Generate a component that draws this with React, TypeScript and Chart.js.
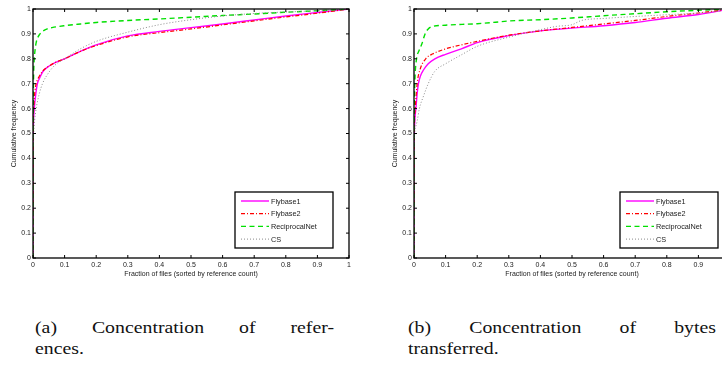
import React, { useEffect, useRef } from "react";
import { Chart, registerables } from "chart.js";

Chart.register(...registerables);

// ---------- data ----------
const tickValues = [0, 0.1, 0.2, 0.3, 0.4, 0.5, 0.6, 0.7, 0.8, 0.9, 1];
const tickLabels = ["0", "0.1", "0.2", "0.3", "0.4", "0.5", "0.6", "0.7", "0.8", "0.9", "1"];
const seriesNames = ["Flybase1", "Flybase2", "ReciprocalNet", "CS"];
const xTitle = "Fraction of files (sorted by reference count)";
const yTitle = "Cumulative frequency";
const captionA = ["(a) Concentration of refer-", "ences."];
const captionB = ["(b) Concentration of bytes", "transferred."];

// chart (a): concentration of references
const aFly1X = [0, 0, 0.001, 0.002, 0.004, 0.008, 0.014, 0.02, 0.032, 0.05, 0.07, 0.09, 0.1, 0.15, 0.2, 0.3, 0.4, 0.5, 0.6, 0.7, 0.8, 0.9, 1.0];
const aFly1Y = [0, 0.45, 0.52, 0.56, 0.6, 0.65, 0.7, 0.72, 0.75, 0.77, 0.785, 0.795, 0.8, 0.83, 0.856, 0.892, 0.91, 0.925, 0.94, 0.956, 0.972, 0.986, 1.0];
const aFly2X = [0, 0, 0.001, 0.003, 0.006, 0.01, 0.02, 0.03, 0.05, 0.07, 0.1, 0.15, 0.2, 0.3, 0.4, 0.5, 0.6, 0.7, 0.8, 0.9, 1.0];
const aFly2Y = [0, 0.4, 0.55, 0.62, 0.67, 0.7, 0.73, 0.75, 0.77, 0.785, 0.8, 0.83, 0.853, 0.888, 0.905, 0.92, 0.936, 0.952, 0.968, 0.983, 1.0];
const aRecX = [0, 0, 0.001, 0.002, 0.004, 0.007, 0.01, 0.015, 0.022, 0.03, 0.045, 0.06, 0.1, 0.15, 0.2, 0.3, 0.4, 0.5, 0.6, 0.7, 0.8, 0.9, 1.0];
const aRecY = [0, 0.5, 0.65, 0.74, 0.8, 0.84, 0.865, 0.885, 0.9, 0.91, 0.92, 0.925, 0.933, 0.94, 0.946, 0.954, 0.96, 0.967, 0.974, 0.98, 0.987, 0.993, 1.0];
const aCsX = [0, 0, 0.002, 0.005, 0.01, 0.02, 0.03, 0.05, 0.07, 0.1, 0.15, 0.2, 0.3, 0.4, 0.5, 0.6, 0.7, 0.8, 0.9, 1.0];
const aCsY = [0, 0.45, 0.5, 0.55, 0.6, 0.66, 0.7, 0.745, 0.775, 0.8, 0.84, 0.87, 0.907, 0.937, 0.957, 0.972, 0.982, 0.988, 0.993, 1.0];

// chart (b): concentration of bytes transferred
const bFly1X = [0, 0, 0.001, 0.003, 0.006, 0.01, 0.014, 0.02, 0.03, 0.045, 0.066, 0.1, 0.15, 0.2, 0.3, 0.4, 0.5, 0.6, 0.7, 0.8, 0.9, 1.0];
const bFly1Y = [0, 0.4, 0.5, 0.56, 0.6, 0.66, 0.7, 0.73, 0.755, 0.78, 0.8, 0.818, 0.84, 0.865, 0.893, 0.912, 0.923, 0.933, 0.946, 0.963, 0.978, 1.0];
const bFly2X = [0, 0, 0.001, 0.004, 0.01, 0.02, 0.037, 0.06, 0.1, 0.13, 0.2, 0.3, 0.4, 0.5, 0.6, 0.7, 0.8, 0.9, 1.0];
const bFly2Y = [0, 0.4, 0.52, 0.6, 0.7, 0.76, 0.8, 0.82, 0.84, 0.85, 0.87, 0.895, 0.912, 0.926, 0.94, 0.954, 0.97, 0.984, 1.0];
const bRecX = [0, 0, 0.001, 0.003, 0.008, 0.015, 0.025, 0.035, 0.045, 0.06, 0.1, 0.2, 0.25, 0.3, 0.4, 0.5, 0.6, 0.7, 0.8, 0.9, 1.0];
const bRecY = [0, 0.5, 0.62, 0.72, 0.8, 0.83, 0.86, 0.9, 0.92, 0.93, 0.935, 0.941, 0.946, 0.952, 0.957, 0.964, 0.973, 0.981, 0.989, 0.995, 1.0];
const bCsX = [0, 0, 0.002, 0.006, 0.01, 0.017, 0.03, 0.045, 0.066, 0.1, 0.15, 0.2, 0.3, 0.4, 0.45, 0.5, 0.53, 0.6, 0.7, 0.8, 0.9, 1.0];
const bCsY = [0, 0.4, 0.5, 0.53, 0.55, 0.6, 0.65, 0.7, 0.75, 0.78, 0.816, 0.85, 0.887, 0.917, 0.93, 0.937, 0.954, 0.962, 0.97, 0.977, 0.984, 0.995];

// ---------- styles ----------
const FONT = "'Liberation Sans', Arial, Helvetica, sans-serif";
const styles = [
  { color: "#ff00ff", dash: [] as number[], width: 1.4, order: 3 },
  { color: "#ff0000", dash: [4, 2, 1, 2], width: 1.2, order: 2 },
  { color: "#00e000", dash: [5, 3.5], width: 1.4, order: 1 },
  { color: "#8a8a8a", dash: [1, 2], width: 1, order: 0 },
];

const zip = (xs: number[], ys: number[]) => xs.map((x, i) => ({ x, y: ys[i] }));

const framePlugin = {
  id: "matlabFrame",
  afterDraw(chart: any, _args: any, opts: any) {
    const { ctx, chartArea: a, scales } = chart;
    ctx.save();
    ctx.strokeStyle = "#000";
    ctx.lineWidth = 1.3;
    ctx.strokeRect(a.left, a.top, a.right - a.left, a.bottom - a.top);
    ctx.lineWidth = 1;
    const tl = 3;
    tickValues.forEach((v) => {
      const px = scales.x.getPixelForValue(v);
      const py = scales.y.getPixelForValue(v);
      ctx.beginPath();
      ctx.moveTo(px, a.bottom); ctx.lineTo(px, a.bottom - tl);
      ctx.moveTo(px, a.top); ctx.lineTo(px, a.top + tl);
      ctx.moveTo(a.left, py); ctx.lineTo(a.left + tl, py);
      ctx.moveTo(a.right, py); ctx.lineTo(a.right - tl, py);
      ctx.stroke();
    });
    // legend box
    const w = 98, h = 56;
    const right = a.right - opts.rightOffset;
    const bottom = a.bottom - opts.bottomOffset;
    const left = right - w, top = bottom - h;
    ctx.fillStyle = "#fff";
    ctx.fillRect(left, top, w, h);
    ctx.lineWidth = 1.3;
    ctx.strokeStyle = "#000";
    ctx.strokeRect(left, top, w, h);
    ctx.font = "7.3px " + FONT;
    ctx.textBaseline = "middle";
    ctx.textAlign = "left";
    chart.data.datasets.forEach((ds: any, i: number) => {
      const y = top + 9 + i * 12.7;
      ctx.beginPath();
      ctx.strokeStyle = ds.borderColor;
      ctx.lineWidth = ds.borderWidth;
      ctx.setLineDash(ds.borderDash || []);
      ctx.moveTo(left + 6, y);
      ctx.lineTo(left + 34, y);
      ctx.stroke();
      ctx.setLineDash([]);
      ctx.fillStyle = "#222";
      ctx.fillText(ds.label, left + 36, y + 0.5);
    });
    ctx.restore();
  },
};

function makeConfig(series: { x: number[]; y: number[] }[], rightOffset: number) {
  return {
    type: "scatter" as const,
    data: {
      datasets: series.map((s, i) => ({
        label: seriesNames[i],
        data: zip(s.x, s.y),
        showLine: true,
        borderColor: styles[i].color,
        backgroundColor: styles[i].color,
        borderWidth: styles[i].width,
        borderDash: styles[i].dash,
        pointRadius: 0,
        pointHoverRadius: 0,
        cubicInterpolationMode: "monotone",
        order: styles[i].order,
      })),
    },
    options: {
      animation: false,
      responsive: false,
      devicePixelRatio: 1,
      layout: { padding: { left: 0, top: 9, right: 11, bottom: 0 } },
      plugins: {
        legend: { display: false },
        tooltip: { enabled: false },
        matlabFrame: { rightOffset, bottomOffset: 10 },
      },
      scales: {
        x: {
          type: "linear",
          min: 0,
          max: 1,
          afterBuildTicks: (s: any) => { s.ticks = tickValues.map((v) => ({ value: v })); },
          afterFit: (s: any) => { s.height = 32; },
          grid: { display: false, drawTicks: false },
          border: { display: false },
          ticks: {
            padding: 3,
            color: "#222",
            font: { family: FONT, size: 7 },
            maxRotation: 0,
            autoSkip: false,
            callback: (_v: any, i: number) => tickLabels[i],
          },
          title: { display: true, text: xTitle, color: "#222", font: { family: FONT, size: 7 }, padding: { top: 0, bottom: 11.8 } },
        },
        y: {
          type: "linear",
          min: 0,
          max: 1,
          afterBuildTicks: (s: any) => { s.ticks = tickValues.map((v) => ({ value: v })); },
          afterFit: (s: any) => { s.width = 33; },
          grid: { display: false, drawTicks: false },
          border: { display: false },
          ticks: {
            padding: 2,
            color: "#222",
            font: { family: FONT, size: 7 },
            autoSkip: false,
            callback: (_v: any, i: number) => tickLabels[i],
          },
          title: { display: true, text: yTitle, color: "#222", font: { family: FONT, size: 7 }, padding: { top: 9.8, bottom: 0 } },
        },
      },
    },
    plugins: [framePlugin],
  };
}

function CdfChart({ series, left, rightOffset }: { series: { x: number[]; y: number[] }[]; left: number; rightOffset: number }) {
  const ref = useRef<HTMLCanvasElement | null>(null);
  useEffect(() => {
    if (!ref.current) return;
    const chart = new Chart(ref.current, makeConfig(series, rightOffset) as any);
    return () => chart.destroy();
  }, []);
  return (
    <canvas
      ref={ref}
      width={360}
      height={290}
      style={{ position: "absolute", left, top: 0, width: 360, height: 290 }}
    />
  );
}

const STRETCH = 1.2;
const capStyle: React.CSSProperties = {
  position: "absolute",
  fontFamily: "'Liberation Serif', 'Times New Roman', serif",
  fontSize: 16.5,
  lineHeight: "21px",
  color: "#111",
  whiteSpace: "nowrap",
  transformOrigin: "0 0",
  transform: `scaleX(${STRETCH})`,
};

function Caption({ lines, left, width, top }: { lines: string[]; left: number; width: number; top: number }) {
  return (
    <div style={{ ...capStyle, left, top, width: width / STRETCH }}>
      <div style={{ textAlign: "justify", textAlignLast: "justify", whiteSpace: "normal" }}>{lines[0]}</div>
      <div>{lines[1]}</div>
    </div>
  );
}

export default function App() {
  const seriesA = [
    { x: aFly1X, y: aFly1Y },
    { x: aFly2X, y: aFly2Y },
    { x: aRecX, y: aRecY },
    { x: aCsX, y: aCsY },
  ];
  const seriesB = [
    { x: bFly1X, y: bFly1Y },
    { x: bFly2X, y: bFly2Y },
    { x: bRecX, y: bRecY },
    { x: bCsX, y: bCsY },
  ];
  return (
    <div style={{ position: "absolute", left: 0, top: 0, width: 722, height: 367, overflow: "hidden", background: "#fff" }}>
      <CdfChart series={seriesA} left={0} rightOffset={16} />
      <CdfChart series={seriesB} left={381} rightOffset={12} />
      <Caption lines={captionA} left={35} width={299} top={317} />
      <Caption lines={captionB} left={408} width={308} top={317} />
    </div>
  );
}
